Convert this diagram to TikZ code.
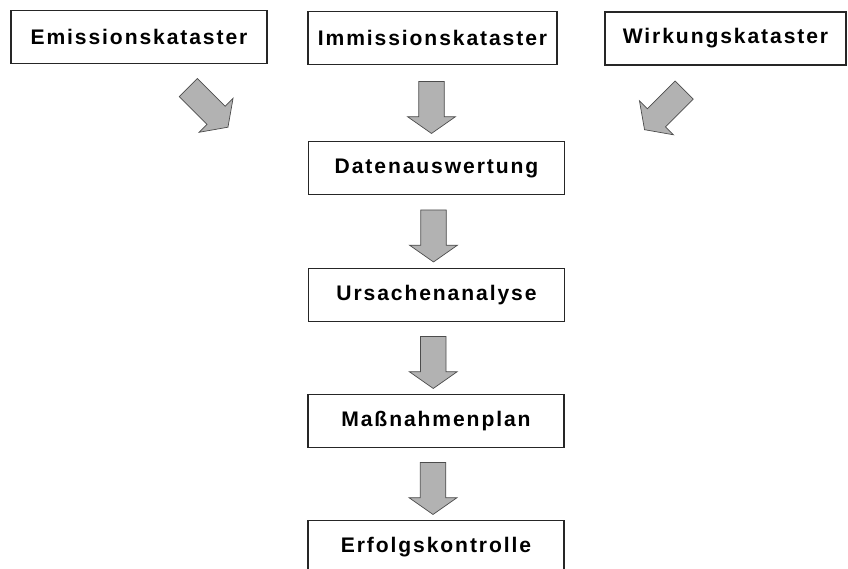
\documentclass[tikz,border=0pt]{standalone}
\usepackage{fontspec}
\newfontfamily\boxfont[LetterSpace=9]{Liberation Sans}
\usepackage{xcolor}
\usepackage{tikz}
\usetikzlibrary{shapes.arrows, positioning, calc}

\begin{document}
\begin{tikzpicture}[
    x=0.025cm, y=-0.025cm,
    stage/.style={rectangle, draw=black!85, line width=0.9pt, fill=white, minimum width=6.4cm, minimum height=1.33cm, inner sep=0pt, font=\boxfont\bfseries\fontsize{15}{18}\selectfont},
    fatarrow/.style={single arrow, draw=black!70, fill=black!30, line width=0.5pt, inner xsep=0pt, inner ysep=0.31cm, single arrow head extend=0.28cm, single arrow tip angle=110, minimum height=#1},
    fatarrow/.default=1.3cm
]
\useasboundingbox (0,0) rectangle (848,569);

% Kataster
\node[stage] (emis) at (139,37) {Emissionskataster};
\node[stage, minimum width=6.225cm] (imm) at (432.5,38) {Immissionskataster};
\node[stage, minimum width=6.025cm] (wirk) at (725.5,38.5) {Wirkungskataster};

% Ablauf
\node[stage] (dat) at (436.5,168) {Datenauswertung};
\node[stage] (urs) at (436.5,295) {Ursachenanalyse};
\node[stage] (mass) at (436,421) {Maßnahmenplan};
\node[stage] (erf) at (436,547) {Erfolgskontrolle};

% Pfeile
\node[fatarrow=1.4cm, rotate=-45] (pemis) at ($(emis.south)+(66,40)$) {};
\node[fatarrow=1.4cm, rotate=-135] (pwirk) at ($(wirk.south)+(-58,41)$) {};
\node[fatarrow, rotate=-90, yshift=-0.075cm] (pimm) at ($(imm.south)!0.5!(dat.north)$) {};
\node[fatarrow, rotate=-90, yshift=-0.075cm] (pdat) at ($(dat.south)!0.5!(urs.north)$) {};
\node[fatarrow, rotate=-90, yshift=-0.075cm] (purs) at ($(urs.south)!0.5!(mass.north)$) {};
\node[fatarrow, rotate=-90, yshift=-0.075cm] (pmass) at ($(mass.south)!0.5!(erf.north)$) {};

\end{tikzpicture}
\end{document}
